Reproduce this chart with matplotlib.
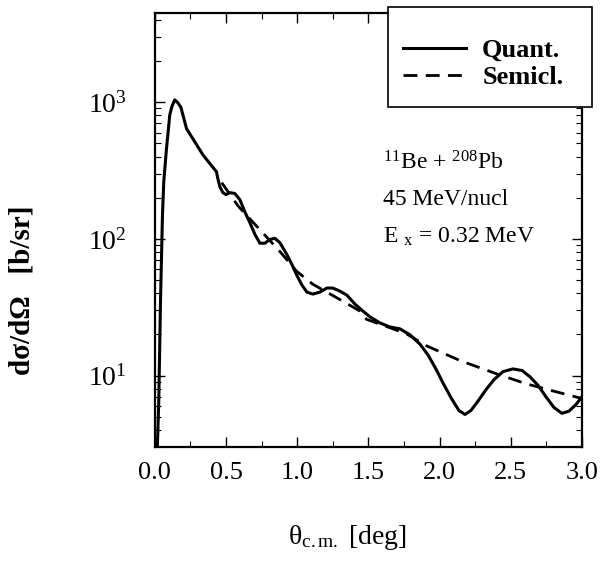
"""Differential cross section for 11Be + 208Pb Coulomb excitation, quantum vs semiclassical."""
import numpy as np
import matplotlib
matplotlib.use('Agg')
import matplotlib.pyplot as plt
from matplotlib.patches import Rectangle
from matplotlib.ticker import MultipleLocator, LogLocator

plt.rcParams['font.family'] = ['Liberation Serif', 'DejaVu Serif']
plt.rcParams['mathtext.fontset'] = 'custom'
plt.rcParams['mathtext.rm'] = 'Liberation Serif'
plt.rcParams['mathtext.it'] = 'Liberation Serif:italic'
plt.rcParams['mathtext.bf'] = 'Liberation Serif:bold'

# quantum curve
theta_q = [0.018, 0.028, 0.04, 0.054, 0.063, 0.082, 0.105, 0.12, 0.14, 0.162,
           0.183, 0.223, 0.34, 0.433, 0.443, 0.457, 0.478, 0.5, 0.527, 0.562,
           0.597, 0.632, 0.667, 0.703, 0.738, 0.773, 0.808, 0.843, 0.878, 0.927,
           0.963, 0.998, 1.033, 1.068, 1.11, 1.159, 1.208, 1.251, 1.3, 1.349,
           1.405, 1.461, 1.511, 1.581, 1.651, 1.721, 1.792, 1.862, 1.918, 1.974,
           2.03, 2.087, 2.136, 2.178, 2.22, 2.269, 2.326, 2.382, 2.445, 2.515,
           2.579, 2.635, 2.691, 2.747, 2.803, 2.859, 2.909, 2.958, 3.0]
sigma_q = [3.0, 6.6, 35, 151, 262, 457, 804, 930, 1040, 990,
           920, 640, 409, 310, 275, 241, 218, 211, 218, 215,
           194, 158, 132, 108, 93, 93, 99, 101, 94, 77,
           65, 54, 46, 40.8, 39.5, 40.8, 43.7, 43.7, 41.5, 38.8,
           33.4, 29.7, 26.9, 24.3, 22.7, 22.0, 19.9, 17.0, 14.2, 11.2,
           8.6, 6.7, 5.56, 5.2, 5.56, 6.5, 7.9, 9.35, 10.7, 11.2,
           10.9, 9.8, 8.5, 7.0, 5.85, 5.3, 5.5, 6.15, 7.0]

# semiclassical curve
theta_s = [0.47, 0.583, 0.878, 0.996, 1.11, 1.321, 1.44, 1.487, 1.651, 1.768,
           1.909, 2.143, 2.401, 2.611, 2.822, 3.0]
sigma_s = [258, 175, 81, 58, 46.6, 35, 29.7, 25.8, 22.4, 20.2,
           16.5, 12.9, 10.3, 8.7, 7.6, 6.8]

fig = plt.figure(figsize=(6, 5.61), dpi=100)
ax = fig.add_axes([0.258, 0.203, 0.712, 0.774])

l1, = ax.plot(theta_q, sigma_q, color='black', lw=2.2, label='Quant.',
              solid_joinstyle='round')
l2, = ax.plot(theta_s, sigma_s, color='black', lw=2.0, dashes=(5, 3), label='Semicl.')

ax.set_yscale('log')
ax.set_xlim(0, 3.0)
ax.set_ylim(3.0, 4500)
ax.xaxis.set_minor_locator(MultipleLocator(0.25))
ax.yaxis.set_major_locator(LogLocator(base=10, numticks=10))
ax.yaxis.set_minor_locator(LogLocator(base=10, subs=np.arange(2, 10), numticks=20))
ax.set_xticks([0, 0.5, 1.0, 1.5, 2.0, 2.5, 3.0])
ax.set_xticklabels(['0.0', '0.5', '1.0', '1.5', '2.0', '2.5', '3.0'])

ax.tick_params(which='both', direction='in', top=True, right=True)
ax.tick_params(which='major', length=7, width=1)
ax.tick_params(which='minor', length=4, width=0.8)
ax.tick_params(axis='x', which='major', labelsize=19, pad=11)
ax.tick_params(axis='y', which='major', labelsize=20, pad=20)
for s in ax.spines.values():
    s.set_linewidth(1.6)

fig.text(347 / 600, 1 - 538 / 561, r'$\mathrm{θ}_{\rm c.m.}$ [deg]', ha='center', va='center', fontsize=20)
fig.text(22 / 600, 1 - 290 / 561, 'dσ/dΩ   [b/sr]', rotation=90,
         ha='center', va='center', fontsize=21, fontweight='bold')

ax.text(0.534, 0.654, r'$^{11}$Be + $^{208}$Pb', transform=ax.transAxes, fontsize=17, va='center')
ax.text(0.534, 0.571, '45 MeV/nucl', transform=ax.transAxes, fontsize=17, va='center')
ax.text(0.534, 0.484, r'E $_{\rm x}$ = 0.32 MeV', transform=ax.transAxes, fontsize=17, va='center')

# legend box sticks out past the axes, as in the original
fig.patches.append(Rectangle((388 / 600, 1 - 107 / 561), 204 / 600, 100 / 561,
                             transform=fig.transFigure, facecolor='white',
                             edgecolor='black', lw=1.2, zorder=4))
leg = fig.legend(handles=[l1, l2], loc='center left', bbox_to_anchor=(403 / 600, 1 - 64 / 561),
                 frameon=False, prop={'family': 'Liberation Serif', 'weight': 'bold', 'size': 19},
                 handlelength=2.4, borderpad=0, labelspacing=0.15, handletextpad=0.6,
                 borderaxespad=0)
leg.set_zorder(5)

fig.savefig('out.png', dpi=100)
